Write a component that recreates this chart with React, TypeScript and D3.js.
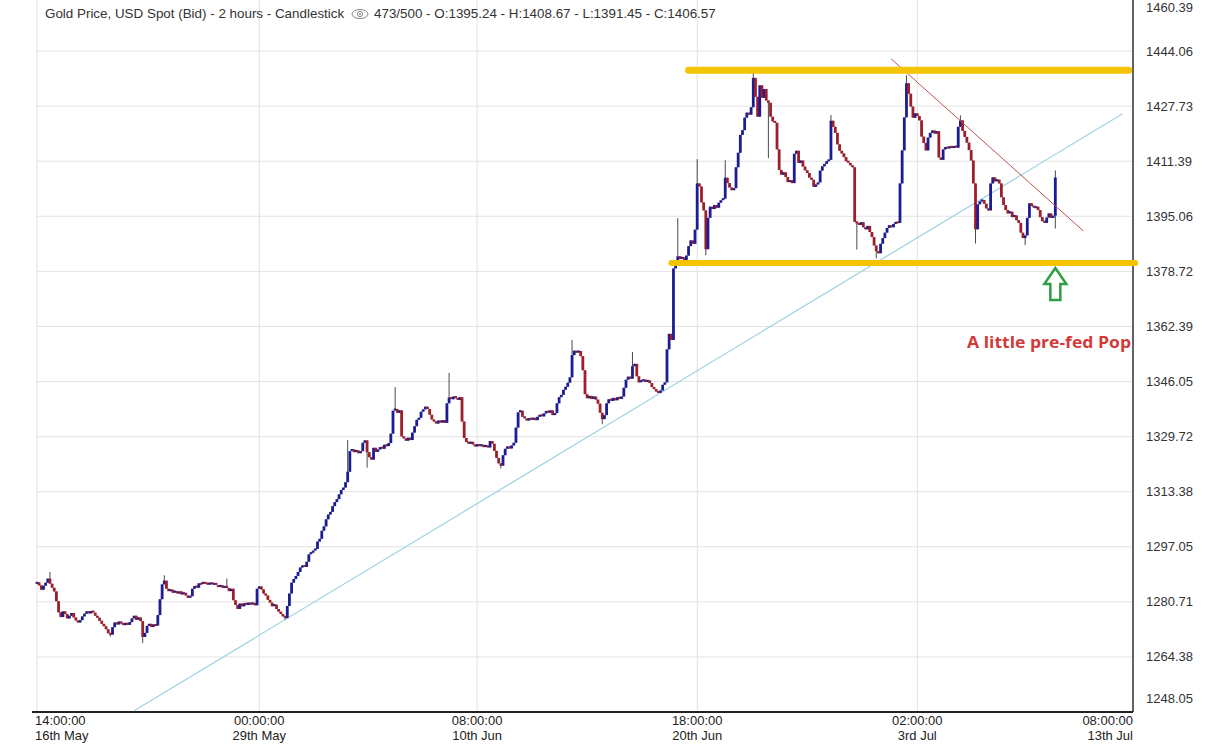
import React from 'react';
import * as d3 from 'd3';

// ---- Data (2-hour candles, close prices) ----
const firstOpen = 1286.0;
const closes: number[] = [
  1286.5, 1285.6, 1284.3, 1285.5, 1286.4, 1287.6, 1286.1, 1284.9, 1283.8, 1280.9,
  1277.6, 1276.2, 1277.9, 1277.1, 1275.8, 1276.6, 1277.4, 1276.1, 1275.2, 1274.6,
  1275.3, 1276.4, 1277.2, 1277.9, 1277.3, 1278.0, 1277.5, 1276.6, 1276.0, 1275.1,
  1274.2, 1273.5, 1272.6, 1271.4, 1271.0, 1273.2, 1274.6, 1274.0, 1274.9, 1274.3,
  1273.8, 1274.5, 1273.9, 1274.7, 1275.8, 1276.6, 1275.4, 1276.1, 1275.0, 1270.3,
  1271.5, 1273.6, 1274.2, 1273.3, 1274.0, 1273.7, 1276.8, 1281.5, 1285.9, 1287.0,
  1284.6, 1283.9, 1284.3, 1283.4, 1283.9, 1283.2, 1283.8, 1282.9, 1283.4, 1282.6,
  1281.9, 1282.4, 1284.6, 1285.4, 1284.9, 1286.2, 1286.0, 1286.5, 1286.3, 1285.8,
  1286.4, 1285.9, 1286.2, 1285.7, 1285.1, 1285.6, 1284.9, 1285.3, 1284.8, 1283.9,
  1284.6, 1281.2, 1279.8, 1278.6, 1280.2, 1279.4, 1280.3, 1279.8, 1280.5, 1279.9,
  1280.4, 1279.7, 1284.6, 1285.3, 1284.4, 1283.2, 1282.6, 1281.3, 1280.5, 1279.4,
  1279.9, 1278.6, 1277.8, 1277.1, 1276.4, 1275.9, 1279.5, 1283.2, 1286.4, 1287.5,
  1288.4, 1289.6, 1290.9, 1291.5, 1291.1, 1292.6, 1294.8, 1295.3, 1295.9, 1296.4,
  1298.6, 1299.4, 1301.8, 1303.1, 1305.2, 1306.6, 1307.4, 1309.1, 1310.3, 1311.2,
  1312.6, 1313.9, 1314.6, 1316.2, 1319.3, 1325.4, 1325.9, 1325.1, 1325.6, 1324.8,
  1325.4, 1327.9, 1328.6, 1325.1, 1323.6, 1322.9, 1326.4, 1325.2, 1325.9, 1326.6,
  1326.1, 1327.3, 1326.9, 1327.8, 1330.6, 1337.4, 1337.9, 1336.8, 1337.5, 1329.8,
  1329.2, 1328.5, 1329.4, 1328.7, 1330.9, 1332.8, 1334.7, 1335.3, 1337.1, 1337.8,
  1338.6, 1337.9, 1336.2, 1334.8, 1334.2, 1333.6, 1334.5, 1333.9, 1334.6, 1333.8,
  1339.6, 1341.3, 1340.8, 1341.6, 1341.1, 1340.6, 1341.4, 1334.2, 1329.3, 1328.1,
  1327.6, 1328.2, 1327.4, 1326.8, 1327.5, 1326.9, 1327.3, 1326.6, 1327.1, 1326.5,
  1328.4, 1327.6, 1325.5, 1323.4, 1321.8, 1321.1, 1324.2, 1326.1, 1326.8, 1326.2,
  1327.1, 1327.9, 1332.4, 1336.9, 1337.4, 1335.6, 1335.1, 1334.5, 1335.2, 1334.7,
  1335.3, 1334.6, 1335.6, 1336.2, 1335.7, 1336.6, 1337.3, 1336.8, 1337.5, 1336.1,
  1336.7, 1339.6, 1341.4, 1342.1, 1343.6, 1344.5, 1345.7, 1347.3, 1353.9, 1355.2,
  1354.6, 1355.1, 1353.6, 1349.4, 1342.3, 1341.1, 1341.8, 1340.9, 1341.6, 1340.7,
  1339.5, 1336.8, 1334.9, 1336.1, 1339.6, 1340.8, 1340.3, 1341.2, 1340.5, 1341.4,
  1340.9, 1341.6, 1344.2, 1346.6, 1347.5, 1346.9, 1350.6, 1351.3, 1347.6, 1345.8,
  1346.3, 1346.6, 1345.9, 1346.4, 1345.6, 1344.4, 1343.8, 1343.1, 1342.7, 1343.4,
  1345.1, 1345.8, 1355.6, 1360.2, 1358.4, 1379.6, 1381.8, 1383.2, 1382.4, 1382.9,
  1382.1, 1383.4, 1386.2, 1387.9, 1386.9, 1391.1, 1404.8, 1403.9, 1399.2, 1396.8,
  1385.3, 1394.6, 1397.9, 1397.2, 1398.4, 1397.6, 1399.1, 1399.8, 1400.3, 1406.5,
  1404.9, 1403.6, 1402.8, 1403.4, 1409.6, 1413.9, 1419.2, 1420.6, 1424.3, 1425.8,
  1425.2, 1427.4, 1436.1, 1430.5, 1424.6, 1433.9, 1430.2, 1432.8, 1429.4, 1428.7,
  1424.6, 1423.2, 1422.8, 1414.9, 1408.8, 1407.4, 1408.1, 1406.7, 1405.2, 1405.8,
  1404.9, 1413.6, 1414.5, 1410.9, 1411.6, 1409.8, 1408.7, 1407.9, 1406.5, 1405.9,
  1403.8, 1404.5, 1405.1, 1408.6, 1409.9, 1410.6, 1411.4, 1411.8, 1423.4, 1421.6,
  1419.8, 1416.4, 1414.5, 1413.7, 1412.6, 1411.4, 1410.9, 1410.2, 1409.6, 1393.4,
  1393.1, 1392.5, 1393.3, 1391.8, 1391.2, 1392.2, 1390.4, 1388.9, 1386.4, 1384.7,
  1384.1, 1386.9, 1388.6, 1390.2, 1391.6, 1392.4, 1391.8, 1392.8, 1393.4, 1393.1,
  1404.8, 1414.6, 1424.4, 1434.5, 1431.4, 1427.6, 1424.3, 1425.6, 1424.8, 1423.5,
  1418.7, 1416.8, 1414.6, 1418.4, 1419.8, 1420.5, 1419.6, 1420.3, 1412.5, 1411.8,
  1414.9, 1415.6, 1415.2, 1415.8, 1415.3, 1415.9, 1415.4, 1421.6, 1423.5, 1420.4,
  1418.6, 1416.9, 1414.7, 1411.6, 1404.8, 1391.2, 1398.6, 1399.5, 1399.9, 1398.8,
  1397.4, 1396.8, 1404.8, 1406.6, 1405.4, 1405.9, 1404.8, 1400.7, 1398.4, 1396.9,
  1395.9, 1396.4, 1394.8, 1395.3, 1393.9, 1393.1, 1390.2, 1388.6, 1389.4, 1394.6,
  1398.9, 1398.1, 1397.6, 1397.9, 1396.9, 1394.8, 1393.6, 1393.1, 1394.7, 1395.9,
  1394.6, 1395.24, 1406.57,
];

// notable wick extremes: [candle index, price]
const highWicks: [number, number][] = [
  [6, 1289.6], [59, 1288.6], [88, 1287.6], [144, 1328.7], [166, 1344.4], [191, 1348.6],
  [248, 1358.4], [276, 1354.8], [297, 1394.5], [306, 1412.0], [319, 1411.7],
  [332, 1437.8], [368, 1425.1], [403, 1436.9], [428, 1425.0], [472, 1408.67],
];
const lowWicks: [number, number][] = [
  [34, 1270.4], [49, 1268.5], [115, 1275.4], [153, 1320.5], [215, 1320.3],
  [262, 1333.4], [310, 1383.5], [339, 1412.3], [380, 1385.2], [389, 1382.6],
  [435, 1387.0], [458, 1386.5], [472, 1391.45],
];

const yTickValues = [1460.39, 1444.06, 1427.73, 1411.39, 1395.06, 1378.72, 1362.39,
  1346.05, 1329.72, 1313.38, 1297.05, 1280.71, 1264.38, 1248.05];
const xTickSlots = [0, 103, 204, 306, 408, 508];
const xTickTimes = ['14:00:00', '00:00:00', '08:00:00', '18:00:00', '02:00:00', '08:00:00'];
const xTickDates = ['16th May', '29th May', '10th Jun', '20th Jun', '3rd Jul', '13th Jul'];

// drawn annotations, [slot, price]
const resistanceLine: [number, number][] = [[302, 1438.4], [506, 1438.4]];
const supportLine: [number, number][] = [[294, 1381.2], [509, 1381.2]];
const risingTrend: [number, number][] = [[45, 1248.4], [503, 1425.4]];
const fallingTrend: [number, number][] = [[396, 1441.7], [485, 1390.7]];

const titleText = 'Gold Price, USD Spot (Bid) - 2 hours - Candlestick';
const infoText = '473/500 - O:1395.24 - H:1408.67 - L:1391.45 - C:1406.57';
const noteText = 'A little pre-fed Pop';

export default function App() {
  const W = 1210, H = 745;
  const left = 37, right = 1133, axisY = 712;
  const x = d3.scaleLinear().domain([0, 508]).range([left, right]);
  const y = d3.scaleLinear().domain([1248.05, 1460.39]).range([axisY, -4]);

  const hiMap = new Map(highWicks);
  const loMap = new Map(lowWicks);
  const candles = closes.map((c, i) => {
    const o = i === 0 ? firstOpen : closes[i - 1];
    const h = Math.max(o, c, hiMap.get(i) ?? -Infinity);
    const l = Math.min(o, c, loMap.get(i) ?? Infinity);
    return { i, o, c, h, l };
  });

  const line = d3.line<[number, number]>().x(d => x(d[0])).y(d => y(d[1]));
  const font = '"Liberation Sans", Arial, sans-serif';

  const ax = x(closes.length - 1);
  const ay = y(supportLine[0][1]) + 5;

  return (
    <svg width={W} height={H} style={{ position: 'absolute', left: 0, top: 0, display: 'block', background: '#fff' }}>
      <rect x={0} y={0} width={W} height={H} fill="#fff" />
      {/* grid */}
      {yTickValues.map(v => (
        <line key={'gy' + v} x1={left} x2={right} y1={y(v)} y2={y(v)} stroke="#e3e3e3" strokeWidth={1} />
      ))}
      {xTickSlots.map(s => (
        <line key={'gx' + s} x1={x(s)} x2={x(s)} y1={0} y2={axisY} stroke="#e0e0e0" strokeWidth={1} />
      ))}
      {/* axes */}
      <line x1={32} x2={right} y1={axisY} y2={axisY} stroke="#222" strokeWidth={2} />
      <line x1={right} x2={right} y1={0} y2={axisY} stroke="#333" strokeWidth={1.5} />

      {/* y labels */}
      {yTickValues.map(v => {
        const yy = Math.max(7, Math.min(698, y(v)));
        return (
          <text key={'ly' + v} x={1146} y={yy} dy="0.35em" fontFamily={font} fontSize={13} fill="#333">
            {v.toFixed(2)}
          </text>
        );
      })}
      {/* x labels */}
      {xTickSlots.map((s, k) => {
        const px = x(s);
        const anchor = k === 0 ? 'start' : k === xTickSlots.length - 1 ? 'end' : 'middle';
        const tx = k === 0 ? px - 2 : px;
        return (
          <g key={'lx' + s}>
            <text x={tx} y={725} textAnchor={anchor} fontFamily={font} fontSize={13} fill="#222">{xTickTimes[k]}</text>
            <text x={tx} y={740} textAnchor={anchor} fontFamily={font} fontSize={13} fill="#222">{xTickDates[k]}</text>
          </g>
        );
      })}

      {/* title */}
      <text x={45} y={18} fontFamily={font} fontSize={13.4} fill="#333">{titleText}</text>
      <g transform="translate(360,14)">
        <ellipse rx={8} ry={4.5} fill="none" stroke="#888" strokeWidth={1} />
        <circle r={2.6} fill="none" stroke="#888" strokeWidth={1} />
        <circle r={1} fill="#888" />
      </g>
      <text x={374} y={18} fontFamily={font} fontSize={13.4} fill="#333">{infoText}</text>

      {/* rising trend line */}
      <path d={line(risingTrend) || ''} stroke="#9fd3e3" strokeWidth={1.2} fill="none" />

      {/* candles */}
      {candles.map(d => {
        const cx = x(d.i);
        const up = d.c >= d.o;
        const top = y(Math.max(d.o, d.c));
        const bh = Math.max(2, Math.abs(y(d.o) - y(d.c)));
        return (
          <g key={d.i}>
            <line x1={cx} x2={cx} y1={y(d.h)} y2={y(d.l)} stroke="#4a4a4a" strokeWidth={1} />
            <rect x={cx - 1.4} y={top - (bh > Math.abs(y(d.o) - y(d.c)) ? 0.5 : 0)} width={2.8} height={bh} fill={up ? '#1c1c94' : '#9c1f2a'} />
          </g>
        );
      })}

      {/* falling trend line */}
      <path d={line(fallingTrend) || ''} stroke="#c0504d" strokeWidth={1} fill="none" />

      {/* support / resistance */}
      <path d={line(resistanceLine) || ''} stroke="#f5c400" strokeWidth={7} strokeLinecap="round" fill="none" />
      <path d={line(supportLine) || ''} stroke="#f5c400" strokeWidth={6} strokeLinecap="round" fill="none" />

      {/* green arrow */}
      <path
        d={`M${ax},${ay} L${ax + 11},${ay + 16} L${ax + 5},${ay + 16} L${ax + 5},${ay + 32} L${ax - 5},${ay + 32} L${ax - 5},${ay + 16} L${ax - 11},${ay + 16} Z`}
        fill="#fff" stroke="#2f9e44" strokeWidth={2.5} strokeLinejoin="miter"
      />
      <text x={1131} y={348} textAnchor="end" fontFamily='"Open Sans", "Noto Sans", sans-serif' fontWeight={700} fontSize={16.5} textLength={164} lengthAdjust="spacingAndGlyphs" fill="#d23a3a">
        {noteText}
      </text>
    </svg>
  );
}
